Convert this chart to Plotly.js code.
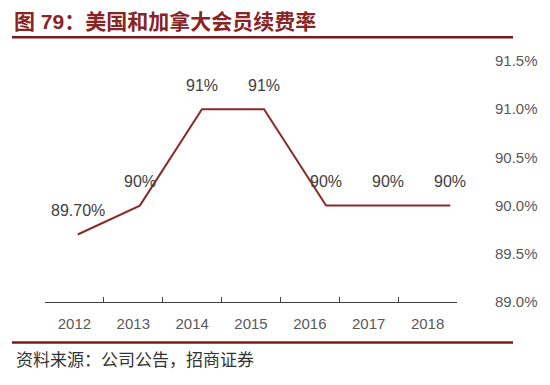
<!DOCTYPE html>
<html>
<head>
<meta charset="utf-8">
<script src="https://cdn.plot.ly/plotly-3.0.1.min.js"></script>
<style>html,body{margin:0;padding:0;background:#fff;}#chart{width:550px;height:385px;}</style>
</head>
<body>
<div id="chart"></div>
<script>
var years = ['2012','2013','2014','2015','2016','2017','2018'];
var renewalRate = [89.7, 90, 91, 91, 90, 90, 90];
var rateLabels = ['89.70%','90%','91%','91%','90%','90%','90%'];
var yTickVals = [89.0, 89.5, 90.0, 90.5, 91.0, 91.5];
var yTickText = ['89.0%','89.5%','90.0%','90.5%','91.0%','91.5%'];
var titleText = '图 79：美国和加拿大会员续费率';
var sourceText = '资料来源：公司公告，招商证券';

var W = 550, H = 385;
var L = 45, R = 457, T = 60.7, B = 302.4;
var pw = R - L, ph = B - T;
function px(x){ return (x - L) / pw; }
function py(y){ return (B - y) / ph; }

var red = '#8a2323';
var idx = years.map(function(_, i){ return i; });
var trace = {
  x: idx, y: renewalRate, xaxis: 'x2', yaxis: 'y',
  type: 'scatter', mode: 'lines',
  line: {color: '#8b2a2a', width: 2},
  hoverinfo: 'skip'
};
var base = {x: years, y: years.map(function(){return null;}), type:'scatter', mode:'lines', xaxis:'x', yaxis:'y', hoverinfo:'skip', showlegend:false};

var annotations = idx.map(function(i){
  return {x: i, y: renewalRate[i], xref: 'x2', yref: 'y', text: rateLabels[i],
    showarrow: false, yshift: 24, font: {family: 'Liberation Sans, Arial, sans-serif', size: 16, color: '#404040'}};
});
annotations.push({x: px(14), y: py(359), xref: 'paper', yref: 'paper', xanchor: 'left', yanchor: 'middle',
  text: sourceText, showarrow: false,
  font: {family: 'Noto Sans CJK SC, sans-serif', size: 17, color: '#333333'}});

var layout = {
  width: W, height: H,
  margin: {l: L, r: W - R, t: T, b: H - B, pad: 0},
  paper_bgcolor: '#ffffff', plot_bgcolor: '#ffffff',
  showlegend: false,
  title: {text: '<b>' + titleText + '</b>', x: 14 / W, xref: 'container', xanchor: 'left',
    y: 1 - 22 / H, yref: 'container', yanchor: 'middle',
    font: {family: 'Liberation Sans, Noto Sans CJK SC, sans-serif', size: 21, color: red}},
  xaxis: {type: 'category', range: [-0.5, 6.5], showline: true, linecolor: '#404040', linewidth: 1,
    ticks: 'inside', ticklen: 5, tickcolor: '#404040', tickson: 'boundaries',
    showgrid: false, zeroline: false, ticklabelstandoff: 8,
    tickfont: {family: 'Liberation Sans, Arial, sans-serif', size: 15, color: '#595959'}, fixedrange: true},
  xaxis2: {type: 'linear', overlaying: 'x', range: [-0.527, 6.108], visible: false, fixedrange: true},
  yaxis: {range: [89.0, 91.5], side: 'right', tickmode: 'array', tickvals: yTickVals, ticktext: yTickText,
    showgrid: false, zeroline: false, showline: false, ticks: '', ticklabelstandoff: 37,
    tickfont: {family: 'Liberation Sans, Arial, sans-serif', size: 15, color: '#595959'}, fixedrange: true},
  shapes: [
    {type: 'line', xref: 'paper', yref: 'paper', x0: px(12), x1: px(513), y0: py(37), y1: py(37), line: {color: '#7a1a1a', width: 2.5}},
    {type: 'line', xref: 'paper', yref: 'paper', x0: px(12), x1: px(513), y0: py(343), y1: py(343), line: {color: '#7a1a1a', width: 2.5}}
  ],
  annotations: annotations
};
Plotly.newPlot('chart', [base, trace], layout, {displayModeBar: false, staticPlot: true});
</script>
</body>
</html>
